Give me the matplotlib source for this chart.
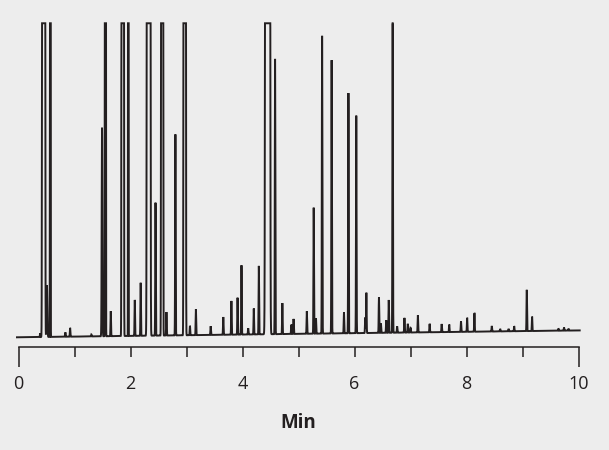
import matplotlib
matplotlib.use("Agg")
import matplotlib.pyplot as plt
import numpy as np

# chromatogram: retention time (min), height (1 = detector limit), peak sigma (min)
# saturated peaks (flat tops)
sat_times = [0.447, 0.566, 1.549, 1.859, 1.959, 2.322, 2.563, 2.966, 4.447]
sat_sigmas = [0.0082, 0.0024, 0.0034, 0.0065, 0.0020, 0.0097, 0.0058, 0.0065, 0.0130]

# resolved peaks
peak_times = [0.385, 0.506, 0.835, 0.92, 1.30, 1.49, 1.646, 2.075, 2.18, 2.445,
              2.64, 2.80, 3.06, 3.166, 3.43, 3.655, 3.80, 3.91, 3.98, 4.10,
              4.20, 4.29, 4.58, 4.71, 4.87, 4.91, 5.147, 5.27, 5.31, 5.42,
              5.59, 5.81, 5.89, 6.03, 6.19, 6.21, 6.435, 6.47, 6.565, 6.61,
              6.68, 6.76, 6.89, 6.95, 7.0, 7.13, 7.34, 7.555, 7.69, 7.90,
              8.01, 8.14, 8.45, 8.6, 8.75, 8.85, 9.075, 9.17, 9.64, 9.74, 9.82]
peak_heights = [0.012, 0.165, 0.014, 0.028, 0.006, 0.667, 0.08, 0.115, 0.17, 0.425,
                0.075, 0.643, 0.03, 0.083, 0.028, 0.057, 0.108, 0.118, 0.222, 0.02,
                0.083, 0.219, 0.88, 0.099, 0.03, 0.048, 0.072, 0.403, 0.05, 0.952,
                0.874, 0.067, 0.768, 0.696, 0.05, 0.129, 0.114, 0.03, 0.04, 0.105,
                1.0, 0.02, 0.047, 0.028, 0.015, 0.055, 0.027, 0.026, 0.024, 0.034,
                0.045, 0.06, 0.018, 0.008, 0.008, 0.016, 0.132, 0.046, 0.007, 0.01, 0.006]
wide_peaks = {0.506: 0.007, 1.49: 0.006}

baseline_start, baseline_end = -0.004, 0.018
t_start, t_end = -0.03, 10.02

t = np.linspace(t_start, t_end, 12000)
signal = baseline_start + (baseline_end - baseline_start) * (t - t_start) / (t_end - t_start)
for tc, s in zip(sat_times, sat_sigmas):
    signal = signal + 1000.0 * np.exp(-0.5 * ((t - tc) / s) ** 2)
for tc, h in zip(peak_times, peak_heights):
    s = wide_peaks.get(tc, 0.0045)
    signal = signal + h * np.exp(-0.5 * ((t - tc) / s) ** 2)
signal = np.minimum(signal, 1.0)  # detector saturation

bg = "#ededed"
ink = "#231f20"
plt.rcParams['font.family'] = ['Open Sans', 'DejaVu Sans']

fig = plt.figure(figsize=(6.09, 4.5), dpi=100, facecolor=bg)
ax = fig.add_axes([0.02594, 0.2289, 0.9287, 0.7333])
ax.set_facecolor(bg)
ax.plot(t, signal, color=ink, lw=1.4, solid_joinstyle='miter')

ax.set_xlim(-0.05, 10.05)
ax.set_ylim(-0.035, 1.02)

for side in ['top', 'left', 'right']:
    ax.spines[side].set_visible(False)
ax.spines['bottom'].set_bounds(0, 10)
ax.spines['bottom'].set_linewidth(1.1)
ax.spines['bottom'].set_color(ink)
ax.set_yticks([])

ax.set_xticks([0, 10], labels=['0', '10'])
ax.set_xticks(range(1, 10), labels=['', '2', '', '4', '', '6', '', '8', ''], minor=True)
ax.tick_params(axis='x', which='major', length=14.4, width=1.1, pad=6,
               color=ink, labelcolor=ink, labelsize=13)
ax.tick_params(axis='x', which='minor', length=7.2, width=1.1, pad=13.2,
               color=ink, labelcolor=ink, labelsize=13)
ax.set_xlabel('Min', fontsize=13.5, fontweight='bold', color=ink, labelpad=14)

fig.savefig('out.png', dpi=100, facecolor=bg)
